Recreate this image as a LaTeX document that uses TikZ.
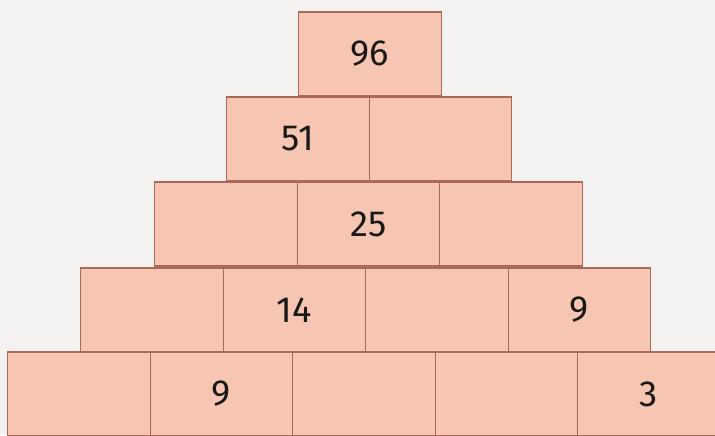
\documentclass[tikz,border=0pt]{standalone}
\usepackage{fontspec}
\setsansfont{Fira Sans}
\usetikzlibrary{positioning}
\definecolor{BrickFill}{HTML}{F6C6B2}
\definecolor{BrickLine}{HTML}{A8685A}
\definecolor{PaperGrey}{HTML}{F3F2F0}

\begin{document}
\begin{tikzpicture}[x=0.03cm,y=-0.03cm,font=\sffamily\fontsize{31}{34}\selectfont,
  brick/.style={draw=BrickLine,line width=1pt,fill=BrickFill,minimum width=4.275cm,minimum height=2.52cm,inner sep=0pt,outer sep=0pt,text=black!90}]
  \fill[PaperGrey] (0,0) rectangle (715,435);
  \useasboundingbox (0,0) rectangle (715,435);
  % row 0 (top)
  \node[brick] (b01) at (370,54) {96};
  % row 1
  \node[brick] (b11) at (298,139) {51};
  \node[brick,right=0pt of b11] (b12) {};
  % row 2
  \node[brick] (b21) at (226,224) {};
  \node[brick,right=0pt of b21] (b22) {25};
  \node[brick,right=0pt of b22] (b23) {};
  % row 3
  \node[brick] (b31) at (152,310) {};
  \node[brick,right=0pt of b31] (b32) {14};
  \node[brick,right=0pt of b32] (b33) {};
  \node[brick,right=0pt of b33] (b34) {9};
  % row 4 (bottom)
  \node[brick] (b41) at (79,394) {};
  \node[brick,right=0pt of b41] (b42) {9};
  \node[brick,right=0pt of b42] (b43) {};
  \node[brick,right=0pt of b43] (b44) {};
  \node[brick,right=0pt of b44] (b45) {3};
\end{tikzpicture}
\end{document}
